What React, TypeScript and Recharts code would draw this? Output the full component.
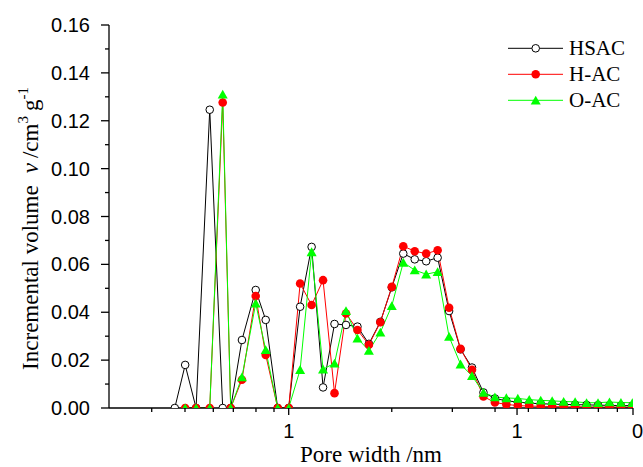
import React from 'react';
import { LineChart, Line, XAxis, YAxis } from 'recharts';

// Pore width (nm)
const poreWidth = [
  0.317, 0.352, 0.393, 0.451, 0.514, 0.557, 0.624, 0.717, 0.793, 0.895,
  1.0, 1.122, 1.26, 1.414, 1.587, 1.782, 2.0, 2.245, 2.52, 2.828,
  3.175, 3.564, 4.0, 4.49, 5.04, 5.657, 6.35, 7.127, 8.0, 8.98,
  10.08, 11.31, 12.7, 14.25, 16.0, 17.96, 20.16, 22.63, 25.4, 28.51, 32.0,
];

// Incremental volume (cm3/g)
const hsac = [
  0, 0.018, 0, 0.1246, 0, 0, 0.0284, 0.0493, 0.0368, 0,
  0, 0.0423, 0.0673, 0.0086, 0.0351, 0.0347, 0.034, 0.0268, 0.036, 0.0504,
  0.0645, 0.0621, 0.0613, 0.0628, 0.0405, 0.0245, 0.0169, 0.0065, 0.004, 0.003,
  0.0025, 0.002, 0.0018, 0.0016, 0.0015, 0.0014, 0.0013, 0.0012, 0.0011, 0.001, 0.001,
];
const hac = [
  null, 0, 0, 0, 0.1276, 0, 0.0118, 0.0468, 0.0222, 0,
  0, 0.052, 0.043, 0.0534, 0.0062, 0.0395, 0.0326, 0.0264, 0.0358, 0.0506,
  0.0676, 0.0655, 0.0645, 0.0659, 0.0419, 0.0247, 0.016, 0.0048, 0.0023, 0.0015,
  0.001, 0.0008, 0.0007, 0.0006, 0.0005, 0.0005, 0.0005, 0.0004, 0.0004, 0.0004, 0.0004,
];
const oac = [
  null, 0, 0, 0, 0.131, 0, 0.0129, 0.0437, 0.0243, 0,
  0, 0.016, 0.0652, 0.0162, 0.0187, 0.0406, 0.0291, 0.024, 0.0316, 0.0427,
  0.0608, 0.0576, 0.0559, 0.0569, 0.0298, 0.0183, 0.0134, 0.0065, 0.0046, 0.0042,
  0.004, 0.0035, 0.0032, 0.003, 0.0027, 0.0026, 0.0022, 0.0022, 0.0025, 0.0023, 0.0022,
];

const seriesNames = ['HSAC', 'H-AC', 'O-AC'];
const seriesColors = ['#000000', '#ff0000', '#00ff00'];

const xDomain = [0.1633, 32.2];
const xMajorTicks = [1, 10, 32.2];
const xMajorLabels = ['1', '1', '0'];
const xMinorTicks = [
  0.2512, 0.3514, 0.4675, 0.5721, 0.7189, 0.8622,
  2.827, 5.208, 8.011,
  11.21, 14.77, 18.37, 22.71, 27.5,
];
const yTicks = [0, 0.01, 0.02, 0.03, 0.04, 0.05, 0.06, 0.07, 0.08, 0.09, 0.1, 0.11, 0.12, 0.13, 0.14, 0.15, 0.16];
const yMajorLabels = ['0.00', '0.02', '0.04', '0.06', '0.08', '0.10', '0.12', '0.14', '0.16'];

const data = poreWidth.map((w, i) => ({ w, hsac: hsac[i], hac: hac[i], oac: oac[i] }));
const xTicks = [...xMinorTicks, ...xMajorTicks].sort((a, b) => a - b);

const SANS = "'Liberation Sans', Arial, sans-serif";
const SERIF = "'Liberation Serif', 'Times New Roman', serif";

const XTick = (props: any) => {
  const { x, y, payload } = props;
  const mi = xMajorTicks.indexOf(payload.value);
  const major = mi >= 0;
  const last = mi === xMajorTicks.length - 1;
  return (
    <g>
      <line x1={x} x2={x} y1={y} y2={y + (major ? 7 : 4)} stroke="#000" strokeWidth={1.3} />
      {major && (
        <text x={last ? x - 1 : x} y={y + 30} textAnchor={last ? 'start' : 'middle'} fontFamily={SANS} fontSize={20} fill="#000">
          {xMajorLabels[mi]}
        </text>
      )}
    </g>
  );
};

const YTick = (props: any) => {
  const { x, y, payload } = props;
  const idx = Math.round(payload.value * 100);
  const major = idx % 2 === 0;
  return (
    <g>
      <line x1={x - (major ? 8 : 4)} x2={x} y1={y} y2={y} stroke="#000" strokeWidth={1.3} />
      {major && (
        <text x={x - 19} y={y + 7} textAnchor="end" fontFamily={SANS} fontSize={20} fill="#000">
          {yMajorLabels[idx / 2]}
        </text>
      )}
    </g>
  );
};

const OpenCircle = (props: any) => {
  const { cx, cy, index } = props;
  if (cx == null || cy == null) return <g key={index} />;
  return <circle key={index} cx={cx} cy={cy} r={3.8} fill="#fff" stroke="#000" strokeWidth={1} />;
};
const RedDot = (props: any) => {
  const { cx, cy, index } = props;
  if (cx == null || cy == null) return <g key={index} />;
  return <circle key={index} cx={cx} cy={cy} r={4.3} fill="#ff0000" stroke="none" />;
};
const GreenTri = (props: any) => {
  const { cx, cy, index } = props;
  if (cx == null || cy == null) return <g key={index} />;
  return (
    <path key={index} d={`M${cx},${cy - 4.6} L${cx + 5},${cy + 4.2} L${cx - 5},${cy + 4.2} Z`} fill="#00ff00" stroke="none" />
  );
};

const YTitle = (props: any) => {
  const vb = props.viewBox || { x: 0, y: 25, width: 109, height: 383 };
  const x = vb.x + 38;
  const y = vb.y + vb.height / 2 + 12;
  return (
    <text x={x} y={y} transform={`rotate(-90 ${x} ${y})`} textAnchor="middle" fontFamily={SERIF} fontSize={23} fill="#000">
      <tspan>Incremental volume</tspan>
      <tspan fontStyle="italic" dx={12}>v</tspan>
      <tspan dx={5}>/cm</tspan>
      <tspan fontSize={15} dy={-10}>3</tspan>
      <tspan dy={10} dx={5}>g</tspan>
      <tspan fontSize={15} dy={-10}>-1</tspan>
    </text>
  );
};

const XTitle = (props: any) => {
  const vb = props.viewBox || { x: 109, y: 408, width: 524, height: 59 };
  return (
    <text x={vb.x + vb.width / 2} y={vb.y + 54} textAnchor="middle" fontFamily={SERIF} fontSize={23} fill="#000">
      Pore width /nm
    </text>
  );
};

const legendMarkers = [
  (cx: number, cy: number) => <circle cx={cx} cy={cy} r={3.8} fill="#fff" stroke="#000" strokeWidth={1} />,
  (cx: number, cy: number) => <circle cx={cx} cy={cy} r={4.3} fill="#ff0000" />,
  (cx: number, cy: number) => <path d={`M${cx},${cy - 4.6} L${cx + 5},${cy + 4.2} L${cx - 5},${cy + 4.2} Z`} fill="#00ff00" />,
];

const LegendBox = () => (
  <svg width={643} height={467} style={{ position: 'absolute', left: 0, top: 0, pointerEvents: 'none' }}>
    {seriesNames.map((name, i) => {
      const cy = 48.3 + i * 26;
      return (
        <g key={name}>
          <line x1={508} x2={563} y1={cy} y2={cy} stroke={seriesColors[i]} strokeWidth={1} />
          {legendMarkers[i](535.7, cy)}
          <text x={569} y={cy + 7} fontFamily={SERIF} fontSize={21} fill="#000">{name}</text>
        </g>
      );
    })}
  </svg>
);

export default function App() {
  return (
    <div style={{ position: 'absolute', left: 0, top: 0, width: 643, height: 467, background: '#fff' }}>
      <LineChart width={643} height={467} data={data} margin={{ top: 25, right: 10, bottom: 0, left: 0 }}>
        <XAxis
          dataKey="w"
          type="number"
          scale="log"
          domain={xDomain}
          allowDataOverflow
          ticks={xTicks}
          interval={0}
          tick={<XTick />}
          tickLine={false}
          tickSize={0}
          tickMargin={0}
          height={59}
          axisLine={{ stroke: '#000', strokeWidth: 1.3 }}
          label={<XTitle />}
        />
        <XAxis
          xAxisId="top"
          orientation="top"
          dataKey="w"
          type="number"
          scale="log"
          domain={xDomain}
          allowDataOverflow
          height={0}
          tick={false}
          tickLine={false}
          axisLine={{ stroke: '#000', strokeWidth: 1.3 }}
        />
        <YAxis
          type="number"
          domain={[0, 0.16]}
          allowDataOverflow
          ticks={yTicks}
          interval={0}
          tick={<YTick />}
          tickLine={false}
          tickSize={0}
          tickMargin={0}
          width={109}
          axisLine={{ stroke: '#000', strokeWidth: 1.3 }}
          label={<YTitle />}
        />
        <YAxis
          yAxisId="right"
          orientation="right"
          type="number"
          domain={[0, 0.16]}
          width={0}
          tick={false}
          tickLine={false}
          axisLine={{ stroke: '#000', strokeWidth: 1.6 }}
        />
        <Line dataKey="hsac" name={seriesNames[0]} stroke={seriesColors[0]} strokeWidth={1} dot={OpenCircle} activeDot={false} isAnimationActive={false} />
        <Line dataKey="hac" name={seriesNames[1]} stroke={seriesColors[1]} strokeWidth={1} dot={RedDot} activeDot={false} isAnimationActive={false} />
        <Line dataKey="oac" name={seriesNames[2]} stroke={seriesColors[2]} strokeWidth={1} dot={GreenTri} activeDot={false} isAnimationActive={false} />
      </LineChart>
      <LegendBox />
    </div>
  );
}
